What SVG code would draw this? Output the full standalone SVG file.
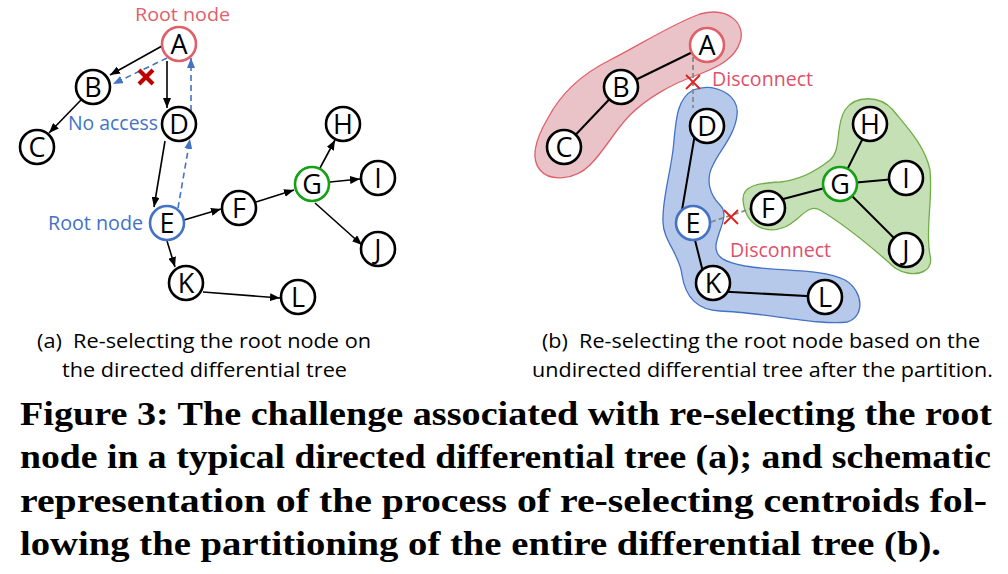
<svg xmlns="http://www.w3.org/2000/svg" width="1008" height="574" viewBox="0 0 1008 574">
<defs>
<style>
.node circle{fill:#fff;stroke:#000;stroke-width:2.6}
.node text{font-family:"Open Sans","Liberation Sans",sans-serif;font-size:27px;text-anchor:middle;fill:#000}
.red circle{stroke:#e0606a}
.blue circle{stroke:#4472c4}
.green circle{stroke:#16a016}
.arr{stroke:#000;stroke-width:1.6;fill:none;marker-end:url(#ah)}
.darr{stroke:#4472c4;stroke-width:1.6;fill:none;stroke-dasharray:6 4;marker-end:url(#ahb)}
.ed{stroke:#000;stroke-width:2;fill:none}
.gd{stroke:#888;stroke-width:1.8;fill:none;stroke-dasharray:5 3}
.lbl{font-family:"Open Sans","Liberation Sans",sans-serif;font-size:20px}
.cap{font-family:"Open Sans","Liberation Sans",sans-serif;font-size:19.5px;fill:#000}
.fig{font-family:"Liberation Serif",serif;font-weight:bold;font-size:34px;fill:#000}
</style>
<marker id="ah" viewBox="0 0 10 8" refX="10" refY="4" markerWidth="10" markerHeight="8" markerUnits="userSpaceOnUse" orient="auto"><path d="M0,0 L10,4 L0,8 Z" fill="#000"/></marker>
<marker id="ahb" viewBox="0 0 10 8" refX="10" refY="4" markerWidth="10" markerHeight="8" markerUnits="userSpaceOnUse" orient="auto"><path d="M0,0 L10,4 L0,8 Z" fill="#4472c4"/></marker>
</defs>
<rect width="1008" height="574" fill="#fff"/>

<g id="partitions">
<path id="part-red" d="M700,14 C730,6 746,25 740,42 C735,58 720,66 700,74 C670,84 645,100 630,115 C615,130 605,150 590,165 C575,180 550,182 540,170 C530,158 535,140 548,118 C560,95 580,75 610,60 C640,45 670,25 700,14 Z" fill="#e9c3c7" stroke="#e0606a" stroke-width="1.3"/>
<path id="part-blue" d="M693,90 C715,82 740,95 737,115 C735,135 720,150 713,165 C705,180 710,195 720,205 C730,215 718,230 716,245 C715,258 725,262 745,266 C780,272 820,268 845,280 C865,292 864,318 847,322 C820,326 760,312 720,311 C695,310 685,295 682,275 C680,255 663,240 663,222 C662,200 670,175 673,150 C676,125 675,100 693,90 Z" fill="#b6c9ea" stroke="#4472c4" stroke-width="1.3"/>
<path id="part-green" d="M743,200 C742,185 760,183 780,182 C800,180 815,172 830,160 C842,150 835,125 845,110 C855,95 880,95 893,110 C905,125 925,145 930,170 C933,200 925,230 930,255 C935,275 910,278 895,268 C875,250 845,225 820,210 C808,203 800,220 785,227 C765,235 745,225 743,200 Z" fill="#c6e0b6" stroke="#70ad47" stroke-width="1.3"/>
</g>

<g id="connectors">
<line class="arr" x1="162" y1="46" x2="110" y2="75"/>
<line class="darr" x1="167" y1="58" x2="113" y2="84"/>
<line class="arr" x1="167" y1="61" x2="167" y2="108"/>
<line class="darr" x1="191" y1="111" x2="191" y2="58"/>
<line class="arr" x1="81" y1="100" x2="49" y2="133"/>
<line class="arr" x1="165" y1="141" x2="154" y2="207"/>
<line class="darr" x1="178" y1="208" x2="190" y2="139"/>
<line class="arr" x1="184" y1="220" x2="221" y2="209"/>
<line class="arr" x1="256" y1="202" x2="294" y2="190"/>
<line class="arr" x1="320" y1="168" x2="335" y2="140"/>
<line class="arr" x1="330" y1="182" x2="360" y2="179"/>
<line class="arr" x1="315" y1="203" x2="362" y2="245"/>
<line class="arr" x1="167" y1="241" x2="175" y2="267"/>
<line class="arr" x1="203" y1="292" x2="280" y2="298"/>
<line class="ed" x1="707" y1="45" x2="621" y2="87"/>
<line class="ed" x1="621" y1="87" x2="564" y2="147"/>
<line class="ed" x1="696" y1="128" x2="681" y2="216"/>
<line class="ed" x1="692" y1="228" x2="704" y2="276"/>
<line class="ed" x1="713" y1="291" x2="825" y2="297"/>
<line class="ed" x1="768" y1="203" x2="840" y2="184"/>
<line class="ed" x1="840" y1="184" x2="870" y2="124"/>
<line class="ed" x1="840" y1="184" x2="906" y2="178"/>
<line class="ed" x1="840" y1="184" x2="906" y2="250"/>
<line class="gd" x1="693" y1="57" x2="693" y2="108"/>
<line class="gd" x1="711" y1="222" x2="750" y2="209"/>
</g>

<g id="marks">
<path d="M139,70 L153,84 M153,70 L139,84" stroke="#c00000" stroke-width="4.2" fill="none"/>
<path d="M686,75 L700,89 M700,75 L686,89" stroke="#e02020" stroke-width="1.8" fill="none"/>
<path d="M724,210 L738,224 M738,210 L724,224" stroke="#e02020" stroke-width="1.8" fill="none"/>
</g>

<g id="lA" class="node red"><circle cx="179" cy="44" r="17"/><text x="179" y="53.5">A</text></g>
<g id="lB" class="node"><circle cx="93" cy="87" r="17"/><text x="93" y="96.5">B</text></g>
<g id="lC" class="node"><circle cx="37" cy="147" r="17"/><text x="37" y="156.5">C</text></g>
<g id="lD" class="node"><circle cx="179" cy="124" r="17"/><text x="179" y="133.5">D</text></g>
<g id="lE" class="node blue"><circle cx="167" cy="223" r="17"/><text x="167" y="232.5">E</text></g>
<g id="lF" class="node"><circle cx="239" cy="208" r="17"/><text x="239" y="217.5">F</text></g>
<g id="lG" class="node green"><circle cx="312" cy="184" r="17"/><text x="312" y="193.5">G</text></g>
<g id="lH" class="node"><circle cx="343" cy="124" r="17"/><text x="343" y="133.5">H</text></g>
<g id="lI" class="node"><circle cx="378" cy="178" r="17"/><text x="378" y="187.5">I</text></g>
<g id="lJ" class="node"><circle cx="378" cy="249" r="17"/><text x="378" y="258.5">J</text></g>
<g id="lK" class="node"><circle cx="186" cy="283" r="17"/><text x="186" y="292.5">K</text></g>
<g id="lL" class="node"><circle cx="298" cy="297" r="17"/><text x="298" y="306.5">L</text></g>

<g id="rA" class="node red"><circle cx="707" cy="45" r="17"/><text x="707" y="54.5">A</text></g>
<g id="rB" class="node"><circle cx="621" cy="87" r="17"/><text x="621" y="96.5">B</text></g>
<g id="rC" class="node"><circle cx="564" cy="147" r="17"/><text x="564" y="156.5">C</text></g>
<g id="rD" class="node"><circle cx="707" cy="126" r="17"/><text x="707" y="135.5">D</text></g>
<g id="rE" class="node blue"><circle cx="693" cy="223" r="17"/><text x="693" y="232.5">E</text></g>
<g id="rF" class="node"><circle cx="768" cy="208" r="17"/><text x="768" y="217.5">F</text></g>
<g id="rG" class="node green"><circle cx="840" cy="184" r="17"/><text x="840" y="193.5">G</text></g>
<g id="rH" class="node"><circle cx="870" cy="124" r="17"/><text x="870" y="133.5">H</text></g>
<g id="rI" class="node"><circle cx="906" cy="178" r="17"/><text x="906" y="187.5">I</text></g>
<g id="rJ" class="node"><circle cx="906" cy="250" r="17"/><text x="906" y="259.5">J</text></g>
<g id="rK" class="node"><circle cx="713" cy="283" r="17"/><text x="713" y="292.5">K</text></g>
<g id="rL" class="node"><circle cx="825" cy="297" r="17"/><text x="825" y="306.5">L</text></g>

<g id="labels">
<text class="lbl" x="135" y="21" fill="#e0606a" style="font-size:19px" textLength="95" lengthAdjust="spacingAndGlyphs">Root node</text>
<text class="lbl" x="68" y="130" fill="#4472c4" textLength="90" lengthAdjust="spacingAndGlyphs">No access</text>
<text class="lbl" x="48" y="230" fill="#4472c4" textLength="95" lengthAdjust="spacingAndGlyphs">Root node</text>
<text class="lbl" x="712" y="86" fill="#e0506a" textLength="101" lengthAdjust="spacingAndGlyphs">Disconnect</text>
<text class="lbl" x="730" y="257" fill="#e0506a" textLength="101" lengthAdjust="spacingAndGlyphs">Disconnect</text>
</g>

<g id="captions">
<text class="cap" x="37" y="348" textLength="334" lengthAdjust="spacingAndGlyphs" xml:space="preserve">(a)  Re-selecting the root node on</text>
<text class="cap" x="62" y="377" textLength="285" lengthAdjust="spacingAndGlyphs">the directed differential tree</text>
<text class="cap" x="542" y="348" textLength="438" lengthAdjust="spacingAndGlyphs" xml:space="preserve">(b)  Re-selecting the root node based on the</text>
<text class="cap" x="532" y="377" textLength="461" lengthAdjust="spacingAndGlyphs">undirected differential tree after the partition.</text>
<text class="fig" x="20" y="425" textLength="972" lengthAdjust="spacingAndGlyphs">Figure 3: The challenge associated with re-selecting the root</text>
<text class="fig" x="20" y="468" textLength="971" lengthAdjust="spacingAndGlyphs">node in a typical directed differential tree (a); and schematic</text>
<text class="fig" x="20" y="512" textLength="967" lengthAdjust="spacingAndGlyphs">representation of the process of re-selecting centroids fol-</text>
<text class="fig" x="20" y="555" textLength="921" lengthAdjust="spacingAndGlyphs">lowing the partitioning of the entire differential tree (b).</text>
</g>
</svg>
